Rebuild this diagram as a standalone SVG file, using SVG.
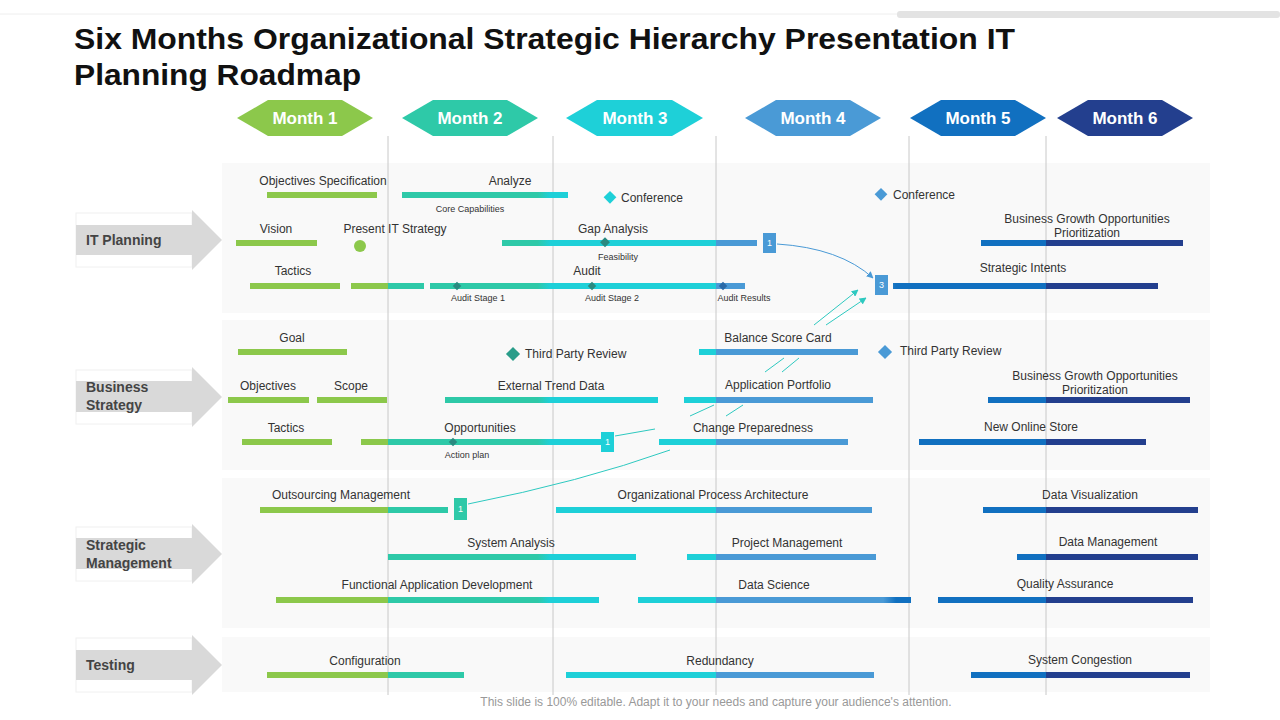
<svg xmlns="http://www.w3.org/2000/svg" width="1280" height="720" viewBox="0 0 1280 720">
<defs>
<linearGradient id="g" gradientUnits="userSpaceOnUse" x1="0" y1="0" x2="1280" y2="0">
<stop offset="0.303" stop-color="#8cc84b"/><stop offset="0.303" stop-color="#2ec9a8"/>
<stop offset="0.42" stop-color="#2ec9a8"/><stop offset="0.43" stop-color="#1ed0d8"/>
<stop offset="0.559" stop-color="#1ed0d8"/><stop offset="0.559" stop-color="#4a9ad6"/>
<stop offset="0.69" stop-color="#4a9ad6"/><stop offset="0.70" stop-color="#1170c0"/>
<stop offset="0.817" stop-color="#1170c0"/><stop offset="0.817" stop-color="#233f8e"/>
</linearGradient>
<marker id="ah" viewBox="0 0 10 10" refX="9" refY="5" markerWidth="7" markerHeight="7" orient="auto"><path d="M0,0L10,5L0,10z" fill="#4a9ad6"/></marker>
<marker id="ah2" viewBox="0 0 10 10" refX="9" refY="5" markerWidth="7" markerHeight="7" orient="auto"><path d="M0,0L10,5L0,10z" fill="#2ec9c0"/></marker>
</defs>
<style>
text{font-family:"Liberation Sans",Arial,sans-serif;fill:#333}
.t{font-size:12px;text-anchor:middle}
.s{font-size:9px;text-anchor:middle}
.b{fill:url(#g)}
.lab{font-size:14px;font-weight:bold;fill:#444}
.m{font-size:17px;font-weight:bold;fill:#fff;text-anchor:middle}
.v{stroke:#c8c8c8;stroke-width:1}
.bx{fill:#4a9ad6}
.bxt{font-size:9px;fill:#fff;text-anchor:middle}
</style>
<rect width="1280" height="720" fill="#fff"/>
<line x1="0" y1="14" x2="897" y2="14" stroke="#eee"/>
<rect x="897" y="11" width="383" height="7" rx="3" fill="#e3e3e3"/>
<text x="74" y="49" font-size="30" font-weight="bold" textLength="941" lengthAdjust="spacingAndGlyphs" style="fill:#111">Six Months Organizational Strategic Hierarchy Presentation IT</text>
<text x="74" y="85" font-size="30" font-weight="bold" textLength="287" lengthAdjust="spacingAndGlyphs" style="fill:#111">Planning Roadmap</text>
<g id="panels" fill="#f9f9f9">
<rect x="222" y="163" width="988" height="150"/>
<rect x="222" y="320" width="988" height="150"/>
<rect x="222" y="478" width="988" height="150"/>
<rect x="222" y="637" width="988" height="55"/>
</g>
<g id="grid">
<line class="v" x1="388" y1="136" x2="388" y2="695"/>
<line class="v" x1="553" y1="136" x2="553" y2="695"/>
<line class="v" x1="716" y1="136" x2="716" y2="695"/>
<line class="v" x1="909" y1="136" x2="909" y2="695"/>
<line class="v" x1="1046" y1="136" x2="1046" y2="695"/>
</g>
<g id="months">
<polygon points="237,118 268,100 342,100 373,118 342,136 268,136" fill="#8cc84b"/><text class="m" x="305" y="124">Month 1</text>
<polygon points="402,118 433,100 507,100 538,118 507,136 433,136" fill="#2ec9a8"/><text class="m" x="470" y="124">Month 2</text>
<polygon points="566,118 597,100 672,100 703,118 672,136 597,136" fill="#1ed0d8"/><text class="m" x="635" y="124">Month 3</text>
<polygon points="745,118 776,100 850,100 881,118 850,136 776,136" fill="#4a9ad6"/><text class="m" x="813" y="124">Month 4</text>
<polygon points="910,118 941,100 1015,100 1046,118 1015,136 941,136" fill="#1170c0"/><text class="m" x="978" y="124">Month 5</text>
<polygon points="1057,118 1088,100 1162,100 1193,118 1162,136 1088,136" fill="#233f8e"/><text class="m" x="1125" y="124">Month 6</text>
</g>
<g id="lanes">
<g id="lane-it"><rect x="76" y="213" width="116" height="54" fill="#fff" stroke="#f0f0f0"/><polygon points="76,225 192,225 192,210 222,240 192,270 192,255 76,255" fill="#d9d9d9"/><text class="lab" x="86" y="245">IT Planning</text></g>
<g id="lane-bs"><rect x="76" y="370" width="116" height="54" fill="#fff" stroke="#f0f0f0"/><polygon points="76,381 192,381 192,367 222,397 192,427 192,412 76,412" fill="#d9d9d9"/><text class="lab" x="86" y="392">Business</text><text class="lab" x="86" y="410">Strategy</text></g>
<g id="lane-sm"><rect x="76" y="527" width="116" height="54" fill="#fff" stroke="#f0f0f0"/><polygon points="76,538 192,538 192,524 222,554 192,584 192,569 76,569" fill="#d9d9d9"/><text class="lab" x="86" y="550">Strategic</text><text class="lab" x="86" y="568">Management</text></g>
<g id="lane-t"><rect x="76" y="638" width="116" height="54" fill="#fff" stroke="#f0f0f0"/><polygon points="76,650 192,650 192,635 222,665 192,695 192,680 76,680" fill="#d9d9d9"/><text class="lab" x="86" y="670">Testing</text></g>
</g>
<g id="connectors" fill="none">
<path d="M777,244 Q840,248 873,278" stroke="#4a9ad6" stroke-width="1" marker-end="url(#ah)"/>
<line x1="814" y1="325" x2="858" y2="290" stroke="#2ec9c0" marker-end="url(#ah2)"/>
<line x1="826" y1="325" x2="866" y2="298" stroke="#2ec9c0" marker-end="url(#ah2)"/>
<line x1="765" y1="372" x2="784" y2="358" stroke="#2ec9c0"/>
<line x1="782" y1="372" x2="799" y2="358" stroke="#2ec9c0"/>
<line x1="690" y1="416" x2="714" y2="405" stroke="#2ec9c0"/>
<line x1="726" y1="416" x2="743" y2="405" stroke="#2ec9c0"/>
<line x1="615" y1="436" x2="655" y2="429" stroke="#2ec9c0"/>
<path d="M468,504 Q580,482 670,450" stroke="#2ec9c0"/>
</g>
<g id="it">
<text class="t" x="323" y="185">Objectives Specification</text><rect class="b" x="267" y="192" width="110" height="6"/>
<text class="t" x="510" y="185">Analyze</text><rect class="b" x="402" y="192" width="166" height="6"/><text class="s" x="470" y="212">Core Capabilities</text>
<rect x="605" y="193" width="9" height="9" fill="#1ed0d8" transform="rotate(45 610 198)"/><text x="621" y="202" font-size="12">Conference</text>
<rect x="876" y="190" width="9" height="9" fill="#4a9ad6" transform="rotate(45 881 195)"/><text x="893" y="199" font-size="12">Conference</text>
<text class="t" x="276" y="233">Vision</text><rect class="b" x="236" y="240" width="81" height="6"/>
<text class="t" x="395" y="233">Present IT Strategy</text><circle cx="360" cy="246" r="6" fill="#8cc84b"/>
<text class="t" x="613" y="233">Gap Analysis</text><rect class="b" x="502" y="240" width="255" height="6"/><rect x="601" y="239" width="7" height="7" fill="#2a8a80" transform="rotate(45 605 243)"/><text class="s" x="618" y="260">Feasibility</text>
<rect class="bx" x="763" y="233" width="13" height="20"/><text class="bxt" x="769.5" y="246">1</text>
<text class="t" x="1087" y="223">Business Growth Opportunities</text><text class="t" x="1087" y="237">Prioritization</text><rect class="b" x="981" y="240" width="202" height="6"/>
<text class="t" x="293" y="275">Tactics</text><rect class="b" x="250" y="283" width="90" height="6"/><rect class="b" x="351" y="283" width="73" height="6"/><rect class="b" x="430" y="283" width="315" height="6"/>
<text class="t" x="587" y="275">Audit</text>
<rect x="454" y="283" width="6" height="6" fill="#2a8a80" transform="rotate(45 457 286)"/><rect x="589" y="283" width="6" height="6" fill="#2a8a80" transform="rotate(45 592 286)"/><rect x="720" y="283" width="6" height="6" fill="#2a6aa8" transform="rotate(45 723 286)"/>
<text class="s" x="478" y="301">Audit Stage 1</text><text class="s" x="612" y="301">Audit Stage 2</text><text class="s" x="744" y="301">Audit Results</text>
<rect class="bx" x="875" y="275" width="13" height="20"/><text class="bxt" x="881.5" y="288">3</text>
<text class="t" x="1023" y="272">Strategic Intents</text><rect class="b" x="893" y="283" width="265" height="6"/>
</g>
<g id="bs">
<text class="t" x="292" y="342">Goal</text><rect class="b" x="238" y="349" width="109" height="6"/>
<rect x="508" y="349" width="10" height="10" fill="#2a9d8a" transform="rotate(45 513 354)"/><text x="525" y="358" font-size="12">Third Party Review</text>
<text class="t" x="778" y="342">Balance Score Card</text><rect class="b" x="699" y="349" width="159" height="6"/>
<rect x="880" y="347" width="10" height="10" fill="#4a9ad6" transform="rotate(45 885 352)"/><text x="900" y="355" font-size="12">Third Party Review</text>
<text class="t" x="268" y="390">Objectives</text><rect class="b" x="228" y="397" width="81" height="6"/>
<text class="t" x="351" y="390">Scope</text><rect class="b" x="317" y="397" width="70" height="6"/>
<text class="t" x="551" y="390">External Trend Data</text><rect class="b" x="445" y="397" width="213" height="6"/>
<text class="t" x="778" y="389">Application Portfolio</text><rect class="b" x="684" y="397" width="189" height="6"/>
<text class="t" x="1095" y="380">Business Growth Opportunities</text><text class="t" x="1095" y="394">Prioritization</text><rect class="b" x="988" y="397" width="202" height="6"/>
<text class="t" x="286" y="432">Tactics</text><rect class="b" x="242" y="439" width="90" height="6"/>
<text class="t" x="480" y="432">Opportunities</text><rect class="b" x="361" y="439" width="241" height="6"/><rect x="450" y="439" width="6" height="6" fill="#2a8a80" transform="rotate(45 453 442)"/><text class="s" x="467" y="458">Action plan</text>
<rect x="601" y="432" width="13" height="20" fill="#1ed0d8"/><text class="bxt" x="607.5" y="445">1</text>
<text class="t" x="753" y="432">Change Preparedness</text><rect class="b" x="659" y="439" width="189" height="6"/>
<text class="t" x="1031" y="431">New Online Store</text><rect class="b" x="919" y="439" width="227" height="6"/>
</g>
<g id="sm">
<text class="t" x="341" y="499">Outsourcing Management</text><rect class="b" x="260" y="507" width="188" height="6"/>
<rect x="454" y="498" width="13" height="22" fill="#2ec9a8"/><text class="bxt" x="460.5" y="512">1</text>
<text class="t" x="713" y="499">Organizational Process Architecture</text><rect class="b" x="556" y="507" width="316" height="6"/>
<text class="t" x="1090" y="499">Data Visualization</text><rect class="b" x="983" y="507" width="215" height="6"/>
<text class="t" x="511" y="547">System Analysis</text><rect class="b" x="388" y="554" width="248" height="6"/>
<text class="t" x="787" y="547">Project Management</text><rect class="b" x="687" y="554" width="189" height="6"/>
<text class="t" x="1108" y="546">Data Management</text><rect class="b" x="1017" y="554" width="181" height="6"/>
<text class="t" x="437" y="589">Functional Application Development</text><rect class="b" x="276" y="597" width="323" height="6"/>
<text class="t" x="774" y="589">Data Science</text><rect class="b" x="638" y="597" width="273" height="6"/>
<text class="t" x="1065" y="588">Quality Assurance</text><rect class="b" x="938" y="597" width="255" height="6"/>
</g>
<g id="testing">
<text class="t" x="365" y="665">Configuration</text><rect class="b" x="267" y="672" width="197" height="6"/>
<text class="t" x="720" y="665">Redundancy</text><rect class="b" x="566" y="672" width="308" height="6"/>
<text class="t" x="1080" y="664">System Congestion</text><rect class="b" x="971" y="672" width="219" height="6"/>
</g>
<text x="716" y="706" font-size="12" text-anchor="middle" style="fill:#999">This slide is 100% editable. Adapt it to your needs and capture your audience's attention.</text>
</svg>
